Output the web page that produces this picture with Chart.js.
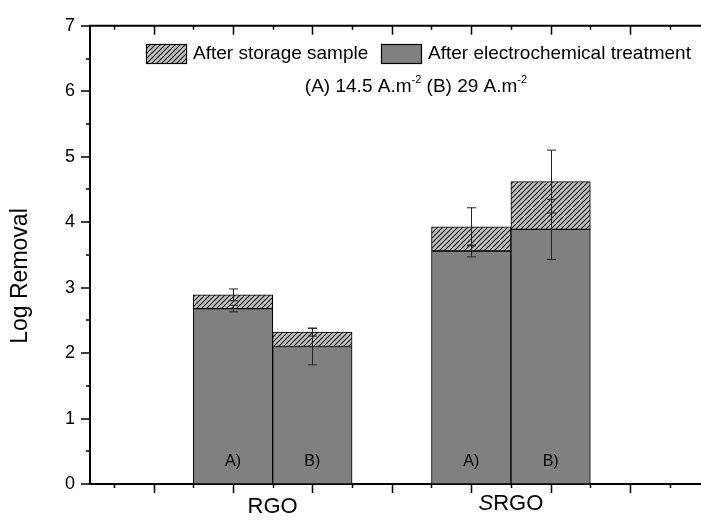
<!DOCTYPE html>
<html lang="en">
<head>
  <meta charset="UTF-8" />
  <title>Log Removal</title>
  <script src="https://cdn.jsdelivr.net/npm/chart.js"></script>
  <style>
    html, body { margin: 0; padding: 0; background: #fff; overflow: hidden; }
    /* plot runs past the right edge of the window, like the cropped original */
    .wrap { position: relative; width: 773px; height: 524px; }
  </style>
</head>
<body>
  <div class="wrap"><canvas id="chart"></canvas></div>

  <script>
    // --- data ---
    const groupNames = [['', 'RGO'], ['S', 'RGO']]; // [italic part, normal part]
    const runLabels = ['A)', 'B)'];
    // after electrochemical treatment: RGO A, RGO B, SRGO A, SRGO B
    const electro = [2.68, 2.10, 3.56, 3.89];
    const electroErr = [0.05, 0.28, 0.09, 0.46];
    // after storage sample (top of the hatched part)
    const storage = [2.89, 2.32, 3.93, 4.62];
    const storageErr = [0.09, 0.06, 0.29, 0.48];
    const yTicks = [0, 1, 2, 3, 4, 5, 6, 7];

    const FONT = '"Liberation Sans", Arial, sans-serif';

    // bar slots on the numeric x axis: group g, run s -> 2 + 3g + s
    const xPos = [];
    groupNames.forEach((g, gi) => runLabels.forEach((r, si) => xPos.push(2 + 3 * gi + si)));

    const canvas = document.getElementById('chart');
    const ctx = canvas.getContext('2d');

    // hatch pattern for the storage part
    function makeHatch() {
      const n = 5;
      const t = document.createElement('canvas');
      t.width = n; t.height = n;
      const g = t.getContext('2d');
      g.fillStyle = '#c4c4c4';
      g.fillRect(0, 0, n, n);
      g.strokeStyle = '#111';
      g.lineWidth = 1.1;
      g.beginPath();
      g.moveTo(0, n); g.lineTo(n, 0);
      g.moveTo(-1, 1); g.lineTo(1, -1);
      g.moveTo(n - 1, n + 1); g.lineTo(n + 1, n - 1);
      g.stroke();
      return ctx.createPattern(t, 'repeat');
    }
    const hatch = makeHatch();

    // error bars, axis frame, tick marks and labels
    const decor = {
      id: 'decor',
      afterDatasetsDraw(chart) {
        const c = chart.ctx, xs = chart.scales.x, ys = chart.scales.y;
        c.save();
        c.strokeStyle = '#222';
        c.lineWidth = 1;
        const bar = (x, v, e) => {
          const y1 = ys.getPixelForValue(v + e), y2 = ys.getPixelForValue(v - e);
          c.beginPath();
          c.moveTo(x, y1); c.lineTo(x, y2);
          c.moveTo(x - 4.5, y1); c.lineTo(x + 4.5, y1);
          c.moveTo(x - 4.5, y2); c.lineTo(x + 4.5, y2);
          c.stroke();
        };
        xPos.forEach((p, i) => {
          const x = Math.round(xs.getPixelForValue(p)) + 0.5;
          bar(x, electro[i], electroErr[i]);
          bar(x, storage[i], storageErr[i]);
        });
        c.restore();
      },
      afterDraw(chart) {
        const c = chart.ctx, xs = chart.scales.x, ys = chart.scales.y;
        const a = chart.chartArea;
        c.save();
        c.strokeStyle = '#000';

        // top frame line
        c.lineWidth = 2;
        c.beginPath();
        c.moveTo(a.left - 1, a.top); c.lineTo(a.right, a.top);
        c.stroke();

        // tick marks: outward on left and bottom, inward on top
        c.lineWidth = 1.5;
        c.beginPath();
        for (let v = 0; v <= 7; v += 0.5) {
          const y = Math.round(ys.getPixelForValue(v));
          const len = Number.isInteger(v) ? 9 : 4;
          c.moveTo(a.left - len, y); c.lineTo(a.left, y);
        }
        for (let v = 0.5; v <= xs.max; v += 0.5) {
          if (v < xs.min) continue;
          const x = Math.round(xs.getPixelForValue(v)) + 0.5;
          const len = Number.isInteger(v) ? 9 : 4;
          c.moveTo(x, a.bottom); c.lineTo(x, a.bottom + len);
          c.moveTo(x, a.top); c.lineTo(x, a.top + len);
        }
        c.stroke();

        c.fillStyle = '#000';
        c.textBaseline = 'middle';

        // run labels inside the bars
        c.font = '16px ' + FONT;
        c.textAlign = 'center';
        xPos.forEach((p, i) => {
          c.fillText(runLabels[i % runLabels.length], xs.getPixelForValue(p), 462);
        });

        // group labels under the axis (italic prefix where needed)
        groupNames.forEach((parts, gi) => {
          const cx = xs.getPixelForValue(2.5 + 3 * gi);
          const y = gi === 0 ? 507 : 504;
          c.font = 'italic 22px ' + FONT;
          const w1 = c.measureText(parts[0]).width;
          c.font = '22px ' + FONT;
          const w2 = c.measureText(parts[1]).width;
          const x = cx - (w1 + w2) / 2;
          c.textAlign = 'left';
          c.font = 'italic 22px ' + FONT;
          c.fillText(parts[0], x, y);
          c.font = '22px ' + FONT;
          c.fillText(parts[1], x + w1, y);
        });

        // y title
        c.save();
        c.translate(21, 276);
        c.rotate(-Math.PI / 2);
        c.textAlign = 'center';
        c.font = '23px ' + FONT;
        c.fillText('Log Removal', 0, 0);
        c.restore();

        // legend inside the plot
        const ds = chart.data.datasets;
        const items = [[ds[1], 146], [ds[0], 381]];
        c.font = '19px ' + FONT;
        c.textAlign = 'left';
        items.forEach(([d, bx]) => {
          c.fillStyle = d.backgroundColor;
          c.fillRect(bx, 44, 40, 19);
          c.lineWidth = 1.2;
          c.strokeStyle = '#000';
          c.strokeRect(bx + 0.5, 44.5, 40, 19);
          c.fillStyle = '#000';
          c.fillText(d.label, bx + 47, 54);
        });

        // current density note with superscripts
        const parts = [['(A) 14.5 A.m', false], ['-2', true], [' (B) 29 A.m', false], ['-2', true]];
        const fontFor = sup => (sup ? '11px ' : '19px ') + FONT;
        let total = 0;
        parts.forEach(([t, sup]) => { c.font = fontFor(sup); total += c.measureText(t).width; });
        let x = 416 - total / 2;
        parts.forEach(([t, sup]) => {
          c.font = fontFor(sup);
          c.fillText(t, x, sup ? 80 : 87);
          x += c.measureText(t).width;
        });

        c.restore();
      }
    };

    new Chart(ctx, {
      type: 'bar',
      data: {
        datasets: [
          {
            label: 'After electrochemical treatment',
            data: electro.map((v, i) => ({ x: xPos[i], y: v })),
            backgroundColor: '#808080',
            borderColor: '#000',
            borderWidth: 1,
            borderSkipped: false,
            stack: 's',
            barPercentage: 1,
            categoryPercentage: 1
          },
          {
            label: 'After storage sample',
            data: storage.map((v, i) => ({ x: xPos[i], y: v - electro[i] })),
            backgroundColor: hatch,
            borderColor: '#000',
            borderWidth: 1,
            borderSkipped: false,
            stack: 's',
            barPercentage: 1,
            categoryPercentage: 1
          }
        ]
      },
      options: {
        responsive: true,
        maintainAspectRatio: false,
        animation: false,
        layout: { padding: { top: 24, left: 0, right: 0, bottom: 0 } },
        scales: {
          x: {
            type: 'linear',
            min: 0.2,
            max: 8.8,
            offset: false,
            bounds: 'data',
            stacked: true,
            grid: { display: false, drawTicks: false, offset: false },
            border: { display: true, color: '#000', width: 2 },
            ticks: { display: false },
            afterBuildTicks: s => { s.ticks = groupNames.map((g, i) => ({ value: 2.5 + 3 * i })); },
            afterFit: s => { s.height = 40; }
          },
          y: {
            min: 0,
            max: 7,
            stacked: true,
            grid: { display: false, drawTicks: false },
            border: { display: true, color: '#000', width: 2 },
            afterBuildTicks: s => { s.ticks = yTicks.map(v => ({ value: v })); },
            ticks: {
              color: '#000',
              padding: 15,
              font: { family: FONT, size: 18 }
            },
            afterFit: s => { s.width = 90; }
          }
        },
        plugins: {
          legend: { display: false },
          tooltip: { enabled: false }
        }
      },
      plugins: [decor]
    });
  </script>
</body>
</html>
